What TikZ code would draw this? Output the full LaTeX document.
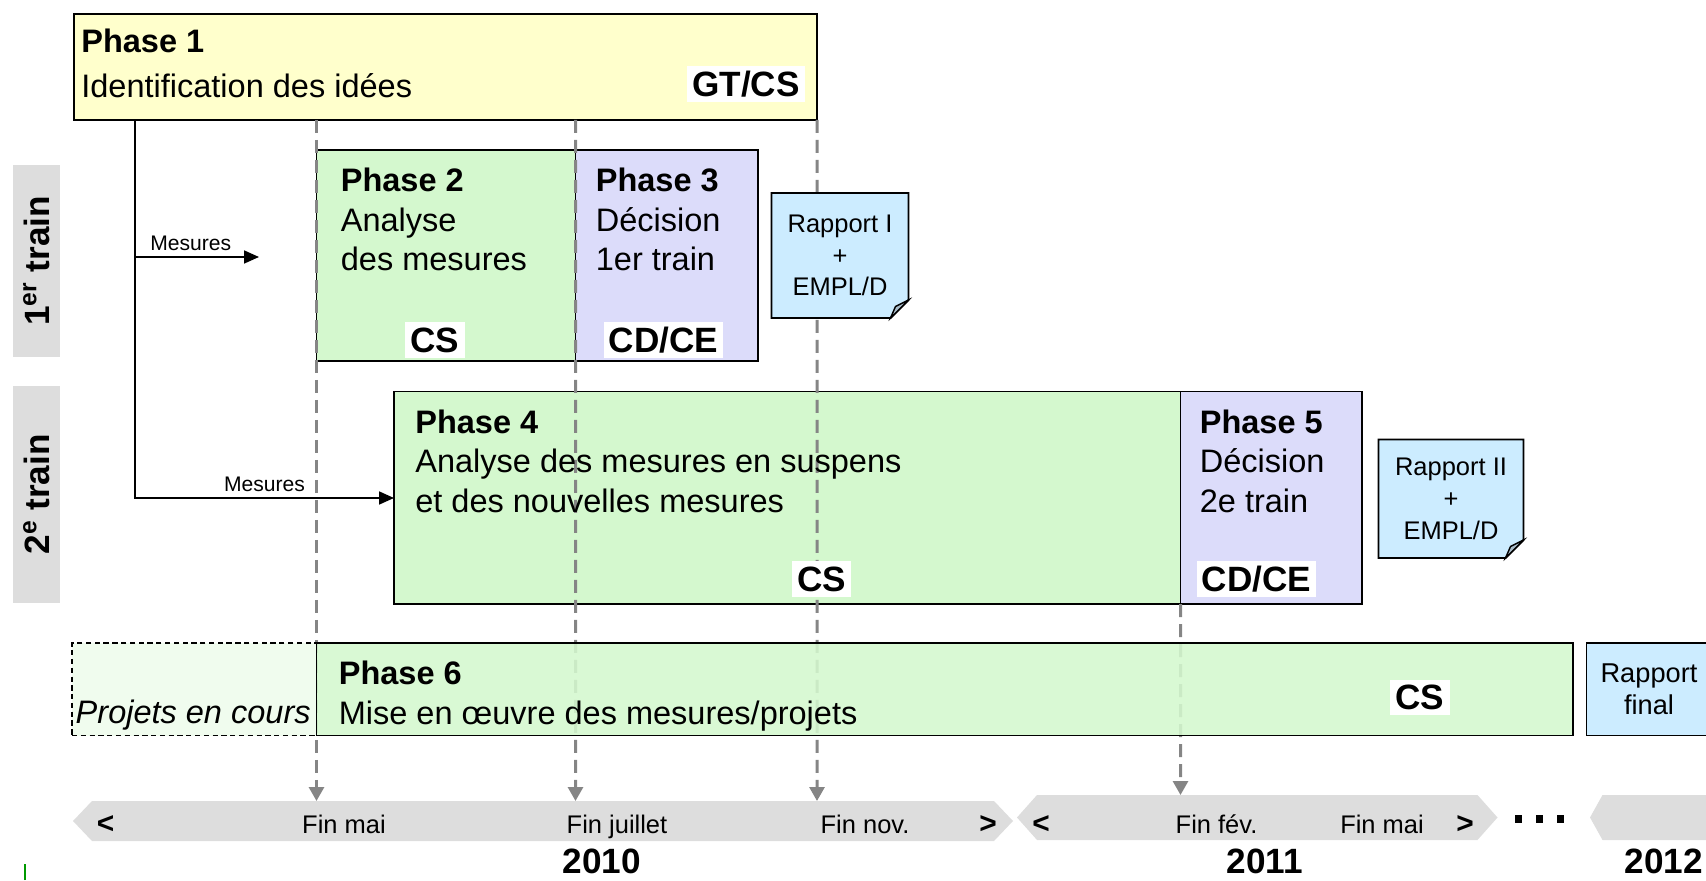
\documentclass[tikz,border=0pt]{standalone}
\usepackage{fontspec}
\setmainfont{Liberation Sans}
\usetikzlibrary{positioning,arrows.meta,calc}

\definecolor{phyellow}{HTML}{FFFFCC}
\definecolor{phgreen}{HTML}{D4F8CE}
\definecolor{phlilac}{HTML}{DCDCFA}
\definecolor{noteblue}{HTML}{CCECFF}
\definecolor{foldgray}{HTML}{A9BCC9}
\definecolor{bandgray}{HTML}{DDDDDD}
\definecolor{paleground}{HTML}{F0FCEE}
\definecolor{dashgray}{HTML}{858585}

\tikzset{
  phasebox/.style={draw, line width=1.1pt, inner sep=0pt, outer sep=0pt, anchor=north west},
  phtext/.style={align=left, anchor=north west, inner sep=0pt, font=\fontsize{18.5}{22.5}\selectfont},
  who/.style={fill=white, inner sep=3pt, font=\bfseries\fontsize{20}{24}\selectfont},
  timedash/.style={dashgray, line width=1.7pt, dash pattern=on 0.26cm off 0.14cm, -{Triangle[length=0.28cm,width=0.3cm]}},
  mesarrow/.style={line width=1pt, -{Triangle[length=0.3cm,width=0.26cm]}},
  meslbl/.style={above, inner sep=3pt, font=\fontsize{12}{14}\selectfont},
  note/.style={fill=noteblue, draw, line width=1.1pt, line join=miter},
  fold/.style={fill=foldgray, draw, line width=0.8pt},
  notetxt/.style={align=center, inner sep=0pt, font=\fontsize{14.5}{18}\selectfont},
  band/.style={fill=bandgray},
  bandlbl/.style={anchor=base, inner sep=0pt, font=\fontsize{14.5}{17}\selectfont},
  bandtip/.style={anchor=base, inner sep=0pt, font=\bfseries\fontsize{17}{20}\selectfont},
  trainlbl/.style={fill=bandgray, rotate=90, minimum height=0.94cm, inner sep=0pt, font=\bfseries\fontsize{20}{24}\selectfont},
  yearlbl/.style={anchor=base, inner sep=0pt, font=\bfseries\fontsize{20}{24}\selectfont},
}

\begin{document}
\begin{tikzpicture}
  \useasboundingbox (0,0) rectangle (34.12,17.6);
  \clip (0,0) rectangle (34.12,17.6);

  % trains
  \node[trainlbl, minimum width=3.84cm] (train1) at (0.73,12.38) {1\textsuperscript{er} train};
  \node[trainlbl, minimum width=4.34cm] (train2) at (0.73,7.71) {2\textsuperscript{e} train};

  % phases
  \node[phasebox, fill=phyellow, minimum width=14.86cm, minimum height=2.12cm] (ph1) at (1.48,17.32) {};
  \node[phasebox, fill=phgreen, minimum width=5.18cm, minimum height=4.22cm] (ph2) at (6.33,14.60) {};
  \node[phasebox, fill=phlilac, minimum width=3.65cm, minimum height=4.22cm] (ph3) at (ph2.north east) {};
  \node[phasebox, fill=phgreen, minimum width=15.73cm, minimum height=4.25cm] (ph4) at (7.88,9.77) {};
  \node[phasebox, fill=phlilac, minimum width=3.63cm, minimum height=4.25cm] (ph5) at (ph4.north east) {};

  % time line
  \fill[band] (1.46,1.18) -- (1.84,1.58) -- (19.88,1.58) -- (20.26,1.18) -- (19.88,0.78) -- (1.84,0.78) -- cycle;
  \fill[band] (20.34,1.25) -- (20.74,1.70) -- (29.55,1.70) -- (29.95,1.25) -- (29.55,0.80) -- (20.74,0.80) -- cycle;
  \fill[band] (31.80,1.25) -- (32.05,1.70) -- (34.5,1.70) -- (34.5,0.80) -- (32.05,0.80) -- cycle;

  \coordinate (t1) at (6.33,1.58);
  \coordinate (t2) at (11.51,1.58);
  \coordinate (t3) at (16.34,1.58);
  \coordinate (t4) at (23.61,1.70);
  \draw[timedash] (ph2.north west |- ph1.south) -- (t1);
  \draw[timedash] (ph3.north west |- ph1.south) -- (t2);
  \draw[timedash] (ph1.south east) -- (t3);
  \draw[timedash] (ph5.south west) -- (t4);

  \node[phasebox, dash pattern=on 3pt off 2pt, line width=0.8pt, fill=paleground, anchor=north east,
        minimum width=4.89cm, minimum height=1.85cm] (cours) at (6.33,4.74) {};
  \node[phasebox, fill=phgreen, fill opacity=0.88, minimum width=25.13cm, minimum height=1.85cm] (ph6) at (cours.north east) {};
  \node[phasebox, fill=noteblue, align=center, font=\fontsize{15.5}{18.5}\selectfont,
        minimum width=2.5cm, minimum height=1.85cm] (rfinal) at (31.73,4.74) {Rapport\\final};

  % reports
  \coordinate (r1a) at (15.43,13.74);
  \coordinate (r1b) at (18.17,11.24);
  \filldraw[note] (r1a) -- (r1a -| r1b) -- ([yshift=0.36cm]r1b) -- ([xshift=-0.36cm]r1b) -- (r1a |- r1b) -- cycle;
  \filldraw[fold] ([yshift=0.36cm]r1b) -- ([xshift=-0.36cm]r1b) -- ([shift={(-0.26,0.23)}]r1b) -- cycle;
  \node[notetxt] (rap1) at ($(r1a)!0.5!(r1b)$) {Rapport I\\+\\EMPL/D};

  \coordinate (r2a) at (27.57,8.81);
  \coordinate (r2b) at (30.47,6.44);
  \filldraw[note] (r2a) -- (r2a -| r2b) -- ([yshift=0.36cm]r2b) -- ([xshift=-0.36cm]r2b) -- (r2a |- r2b) -- cycle;
  \filldraw[fold] ([yshift=0.36cm]r2b) -- ([xshift=-0.36cm]r2b) -- ([shift={(-0.26,0.23)}]r2b) -- cycle;
  \node[notetxt] (rap2) at ($(r2a)!0.5!(r2b)$) {Rapport II\\+\\EMPL/D};

  % texts
  \node[phtext] (ph1t) at ([shift={(0.14,-0.29)}]ph1.north west) {\textbf{Phase 1}\\[3pt]Identification des idées};
  \node[phtext] (ph2t) at ([shift={(0.48,-0.36)}]ph2.north west) {\textbf{Phase 2}\\Analyse\\des mesures};
  \node[phtext] (ph3t) at ([shift={(0.40,-0.36)}]ph3.north west) {\textbf{Phase 3}\\Décision\\1er train};
  \node[phtext] (ph4t) at ([shift={(0.42,-0.36)}]ph4.north west) {\textbf{Phase 4}\\Analyse des mesures en suspens\\et des nouvelles mesures};
  \node[phtext] (ph5t) at ([shift={(0.38,-0.36)}]ph5.north west) {\textbf{Phase 5}\\Décision\\2e train};
  \node[phtext] (ph6t) at ([shift={(0.44,-0.36)}]ph6.north west) {\textbf{Phase 6}\\Mise en œuvre des mesures/projets};
  \node[anchor=base east, inner sep=0pt, font=\itshape\fontsize{18.5}{22.5}\selectfont] (courst) at (6.22,3.13) {Projets en cours};

  \node[who] (ph1who) at (14.92,15.92) {GT/CS};
  \node[who] (ph2who) at (8.70,10.80) {CS};
  \node[who] (ph3who) at (13.27,10.80) {CD/CE};
  \node[who] (ph4who) at (16.43,6.02) {CS};
  \node[who] (ph5who) at (25.13,6.02) {CD/CE};
  \node[who] (ph6who) at (28.40,3.65) {CS};

  % measures
  \coordinate (mtop) at ([xshift=1.22cm]ph1.south west);
  \coordinate (m1) at (2.70,12.46);
  \coordinate (m1end) at (5.18,12.46);
  \coordinate (m2) at (2.70,7.64);
  \draw[mesarrow] (mtop) -- (m2) -- node[meslbl] {Mesures} (m2 -| ph4.west);
  \draw[mesarrow] (m1) -- node[meslbl, pos=0.45] {Mesures} (m1end);

  % dates
  \node[bandtip] (lt10) at (2.11,0.94) {<};
  \node[bandlbl] (d1) at (6.88,0.94) {Fin mai};
  \node[bandlbl] (d2) at (12.34,0.94) {Fin juillet};
  \node[bandlbl] (d3) at (17.30,0.94) {Fin nov.};
  \node[bandtip] (gt10) at (19.76,0.94) {>};
  \node[bandtip] (lt11) at (20.82,0.94) {<};
  \node[bandlbl] (d4) at (24.33,0.94) {Fin fév.};
  \node[bandlbl] (d5) at (27.64,0.94) {Fin mai};
  \node[bandtip] (gt11) at (29.30,0.94) {>};
  \node (dots) at (30.79,1.22) {\rule{4pt}{4pt}\hspace{8pt}\rule{4pt}{4pt}\hspace{8pt}\rule{4pt}{4pt}};

  \node[yearlbl] (y10) at (12.04,0.13) {2010};
  \node[yearlbl] (y11) at (25.30,0.13) {2011};
  \node[yearlbl, anchor=base east] (y12) at (34.06,0.13) {2012};

  \draw[green!60!black, line width=1pt] (0.5,0) -- (0.5,0.32);
\end{tikzpicture}
\end{document}
